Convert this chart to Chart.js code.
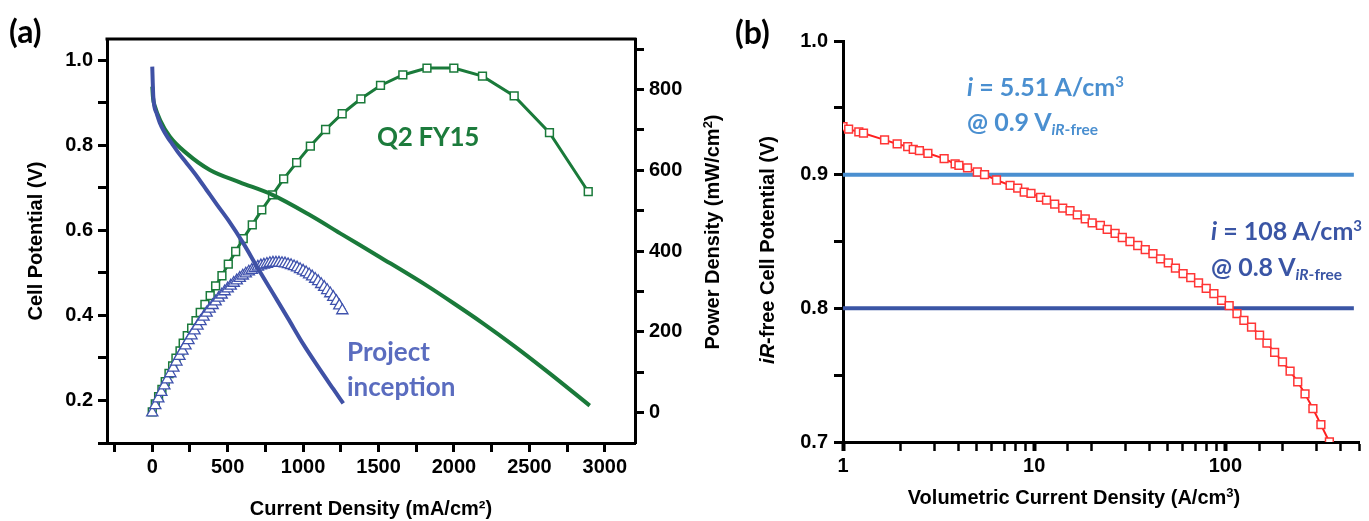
<!DOCTYPE html>
<html lang="en">
<head>
<meta charset="UTF-8">
<title>Cell potential and power density</title>
<script src="https://cdn.jsdelivr.net/npm/chart.js"></script>
<style>
  body { margin: 0; background: #fff; }
  #wrap { position: relative; width: 1369px; height: 521px; overflow: hidden; }
  canvas { position: absolute; top: 0; }
  #chartA { left: 0; }
  #chartB { left: 700px; }
  .note { position: absolute; font-family: Lato, "Open Sans", sans-serif; font-weight: 700; white-space: nowrap; line-height: 1; }
  .note sup { font-size: 60%; vertical-align: 0.6em; line-height: 0; }
  .note sub { font-size: 62%; vertical-align: -0.25em; line-height: 0; }
  .axis-title { position: absolute; font-family: "Liberation Sans", Arial, sans-serif; font-weight: 700; font-size: 20px; line-height: 24px; height: 24px; white-space: nowrap; text-align: center; }
  .axis-title sup { font-size: 65%; vertical-align: 0.55em; line-height: 0; }
</style>
</head>
<body>
<div id="wrap">
  <canvas id="chartA" width="740" height="521"></canvas>
  <canvas id="chartB" width="669" height="521"></canvas>

  <div class="note" style="left:9px; top:15px; font-size:32px;">(a)</div>
  <div class="note" style="left:735px; top:16px; font-size:32px;">(b)</div>

  <div class="note" style="left:377px; top:123px; font-size:26px; color:#1c7b3c; letter-spacing:-0.3px;">Q2 FY15</div>
  <div class="note" style="left:347px; top:334px; font-size:26px; line-height:35px; color:#5a6cbf;">Project<br>inception</div>

  <div class="note" style="left:967px; top:74px; font-size:25px; color:#4a8fd0;"><i>i</i> = 5.51 A/cm<sup>3</sup></div>
  <div class="note" style="left:967px; top:109px; font-size:25px; color:#4a8fd0;">@ 0.9 V<sub><i>iR</i>-free</sub></div>
  <div class="note" style="left:1211px; top:218px; font-size:25px; color:#3a55a5;"><i>i</i> = 108 A/cm<sup>3</sup></div>
  <div class="note" style="left:1211px; top:254px; font-size:25px; color:#3a55a5;">@ 0.8 V<sub><i>iR</i>-free</sub></div>

  <div class="axis-title" style="left:512px; top:220px; width:400px; transform:rotate(-90deg);">Power Density (mW/cm<sup>2</sup>)</div>
  <div class="axis-title" style="left:824px; top:485px; width:500px;">Volumetric Current Density (A/cm<sup>3</sup>)</div>
  <div class="axis-title" style="left:567px; top:238px; width:400px; transform:rotate(-90deg);"><i>iR</i>-free Cell Potential (V)</div>
</div>

<script>
// ---- (a) polarization curves, mA/cm2 vs V
const piCurrent = [0, 3, 7, 15, 29, 50, 73, 100, 129, 170, 228, 300, 360, 430, 504, 603, 700, 800, 900, 1000, 1100, 1200, 1266];
const piPotential = [0.985, 0.95, 0.914, 0.89, 0.875, 0.853, 0.836, 0.82, 0.805, 0.784, 0.758, 0.725, 0.695, 0.66, 0.624, 0.570, 0.511, 0.452, 0.393, 0.333, 0.279, 0.227, 0.193];

const q2Current = [0, 5, 18, 51, 117, 228, 382, 581, 800, 1050, 1260, 1510, 1820, 2000, 2190, 2400, 2630, 2900];
const q2Potential = [0.938, 0.912, 0.891, 0.860, 0.820, 0.781, 0.742, 0.713, 0.683, 0.635, 0.590, 0.537, 0.470, 0.428, 0.382, 0.328, 0.265, 0.188];

// ---- (a) power density, mW/cm2
const piPowerCurrent = [0, 20, 40, 60, 80, 100, 120, 140, 160, 180, 200, 220, 240, 260, 280, 300, 320, 340, 360, 380,
  400, 420, 440, 460, 480, 500, 520, 540, 560, 580, 600, 620, 640, 660, 680, 700, 720, 740, 760, 780,
  800, 820, 840, 860, 880, 900, 920, 940, 960, 980, 1000, 1020, 1040, 1060, 1080, 1100, 1120, 1140, 1160, 1180,
  1200, 1220, 1240, 1260];
const piPower = [0, 18, 35, 51, 67, 82, 97, 111, 126, 140, 153, 166, 179, 191, 203, 215, 226, 237, 247, 257,
  266, 275, 284, 292, 300, 307, 314, 321, 327, 333, 339, 344, 349, 353, 357, 361, 364, 366, 368, 370,
  371, 371, 371, 370, 369, 367, 365, 362, 359, 355, 351, 347, 342, 337, 331, 325, 318, 311, 303, 295,
  286, 276, 265, 253];

const q2PowerCurrent = [0, 20, 42, 64, 86, 111, 135, 157, 184, 205, 232, 261, 290, 318, 349, 384, 420, 462, 504, 553,
  603, 663, 726, 797, 871, 957, 1048, 1149, 1259, 1383, 1513, 1661, 1821, 1999, 2189, 2399, 2633, 2890];
const q2Power = [2, 22, 40, 58, 77, 97, 116, 135, 153, 172, 191, 209, 228, 248, 268, 290, 314, 339, 368, 399,
  431, 465, 502, 539, 579, 619, 660, 701, 740, 777, 810, 836, 853, 853, 833, 784, 693, 547];

// ---- (b) iR-free potential vs volumetric current density, A/cm3
const volCurrent = [1.0, 1.07, 1.21, 1.28, 1.65, 1.92, 2.18, 2.33, 2.51, 2.78, 3.38, 3.86, 4.04, 4.48, 5.04, 5.50, 6.35, 7.48, 8.2, 8.87,
  9.62, 10.8, 11.6, 12.8, 14.1, 15.4, 16.8, 18.5, 20.1, 22.2, 24.1, 26.5, 28.9, 31.7, 34.8, 38.1, 41.8, 45.8, 50.3, 54.8,
  60.1, 65.9, 72.4, 79.4, 87.1, 95.5, 104.7, 115, 125, 137, 151, 165, 181, 199, 218, 239, 261, 287, 316, 350];
const volPotential = [0.936, 0.934, 0.932, 0.931, 0.926, 0.923, 0.921, 0.919, 0.918, 0.916, 0.912, 0.908, 0.907, 0.905, 0.902, 0.900, 0.896, 0.892, 0.890, 0.887,
  0.886, 0.883, 0.881, 0.878, 0.875, 0.873, 0.870, 0.867, 0.864, 0.862, 0.859, 0.856, 0.853, 0.850, 0.847, 0.844, 0.841, 0.837, 0.834, 0.830,
  0.826, 0.823, 0.819, 0.815, 0.811, 0.806, 0.802, 0.796, 0.791, 0.786, 0.780, 0.774, 0.767, 0.760, 0.753, 0.745, 0.736, 0.725, 0.713, 0.700];

const refSpan = [1, 470];
const ref09 = [0.9, 0.9];
const ref08 = [0.8, 0.8];

// tick positions and which of them carry a label
const aBottomTicks = [-250, 0, 250, 500, 750, 1000, 1250, 1500, 1750, 2000, 2250, 2500, 2750, 3000];
const aBottomLabels = [0, 500, 1000, 1500, 2000, 2500, 3000];
const aLeftTicks = [0.1, 0.2, 0.3, 0.4, 0.5, 0.6, 0.7, 0.8, 0.9, 1.0];
const aLeftLabels = [0.2, 0.4, 0.6, 0.8, 1.0];
const aRightTicks = [0, 100, 200, 300, 400, 500, 600, 700, 800, 900];
const aRightLabels = [0, 200, 400, 600, 800];
const bLeftLabels = [0.7, 0.8, 0.9, 1.0];
const bBottomLabels = [1, 10, 100];

const pts = (xs, ys) => xs.map((x, i) => ({ x: x, y: ys[i] }));
const hasLabel = (list, v) => list.some(l => Math.abs(l - v) < 1e-6 * Math.max(1, Math.abs(l)));
const setTicks = list => scale => { scale.ticks = list.map(v => ({ value: v })); };

const tickFont = { family: '"Liberation Sans", Arial, sans-serif', size: 20, weight: 'bold' };
const titleFont = { family: '"Liberation Sans", Arial, sans-serif', size: 20, weight: 'bold' };

function axisStyle(extra) {
  return Object.assign({
    border: { color: '#000', width: 3 },
    grid: { drawOnChartArea: false, tickLength: 9, tickWidth: 3, tickColor: '#000' }
  }, extra);
}

// top edge of the box round panel (a)
const topFrame = {
  id: 'topFrame',
  afterDraw(chart) {
    const a = chart.chartArea, ctx = chart.ctx;
    ctx.save();
    ctx.strokeStyle = '#000';
    ctx.lineWidth = 3;
    ctx.beginPath();
    ctx.moveTo(a.left - 1.5, a.top);
    ctx.lineTo(a.right + 1.5, a.top);
    ctx.stroke();
    ctx.restore();
  }
};

new Chart(document.getElementById('chartA'), {
  type: 'line',
  data: {
    datasets: [
      { label: 'Project inception', data: pts(piCurrent, piPotential), yAxisID: 'y',
        borderColor: '#3f51a5', borderWidth: 4, pointRadius: 0, cubicInterpolationMode: 'monotone' },
      { label: 'Q2 FY15', data: pts(q2Current, q2Potential), yAxisID: 'y',
        borderColor: '#1a7a3a', borderWidth: 4, pointRadius: 0, cubicInterpolationMode: 'monotone' },
      { label: 'Project inception power', data: pts(piPowerCurrent, piPower), yAxisID: 'y2', showLine: false,
        pointStyle: 'triangle', pointRadius: 6.5, pointBorderWidth: 1.3, pointBorderColor: '#3f52ad', pointBackgroundColor: '#fff' },
      { label: 'Q2 FY15 power', data: pts(q2PowerCurrent, q2Power), yAxisID: 'y2',
        borderColor: '#1a7a3a', borderWidth: 3, pointStyle: 'rect', pointRadius: 5.5, pointBorderWidth: 1.5,
        pointBorderColor: '#1a7a3a', pointBackgroundColor: '#fff' }
    ]
  },
  options: {
    animation: false,
    responsive: false,
    devicePixelRatio: 1,
    layout: { padding: { top: 39, left: 0, right: 0, bottom: 0 } },
    plugins: { legend: { display: false }, tooltip: { enabled: false } },
    scales: {
      x: axisStyle({
        type: 'linear', position: 'bottom', min: -300, max: 3200,
        afterFit: s => { s.height = 78; },
        afterBuildTicks: setTicks(aBottomTicks),
        ticks: { autoSkip: false, maxRotation: 0, padding: 3, color: '#000', font: tickFont,
          callback: v => hasLabel(aBottomLabels, v) ? String(v) : '' },
        title: { display: true, text: 'Current Density (mA/cm²)', color: '#000', font: titleFont, padding: { top: 4, bottom: 0 } }
      }),
      y: axisStyle({
        type: 'linear', position: 'left', min: 0.1, max: 1.05,
        afterFit: s => { s.width = 107; },
        afterBuildTicks: setTicks(aLeftTicks),
        ticks: { autoSkip: false, padding: 5, color: '#000', font: tickFont,
          callback: v => hasLabel(aLeftLabels, v) ? v.toFixed(1) : '' },
        title: { display: true, text: 'Cell Potential (V)', color: '#000', font: titleFont, padding: { top: 24, bottom: 0 } }
      }),
      y2: axisStyle({
        type: 'linear', position: 'right', min: -75, max: 925,
        afterFit: s => { s.width = 105; },
        afterBuildTicks: setTicks(aRightTicks),
        ticks: { autoSkip: false, padding: 5, color: '#000', font: tickFont,
          callback: v => hasLabel(aRightLabels, v) ? String(v) : '' }
      })
    }
  },
  plugins: [topFrame]
});

new Chart(document.getElementById('chartB'), {
  type: 'line',
  data: {
    datasets: [
      { label: 'iR-free potential', data: pts(volCurrent, volPotential),
        borderColor: '#ff1f1f', borderWidth: 2, pointStyle: 'rect', pointRadius: 5.5, pointBorderWidth: 1.5,
        pointBorderColor: '#ff3535', pointBackgroundColor: '#fff' },
      { label: '0.9 V', data: pts(refSpan, ref09), borderColor: '#4a8fd0', borderWidth: 4, pointRadius: 0 },
      { label: '0.8 V', data: pts(refSpan, ref08), borderColor: '#3a55a5', borderWidth: 4, pointRadius: 0 }
    ]
  },
  options: {
    animation: false,
    responsive: false,
    devicePixelRatio: 1,
    layout: { padding: { top: 41, left: 0, right: 10, bottom: 0 } },
    plugins: { legend: { display: false }, tooltip: { enabled: false } },
    scales: {
      x: axisStyle({
        type: 'logarithmic', position: 'bottom', min: 1, max: 500,
        afterFit: s => { s.height = 79; },
        grid: { drawOnChartArea: false, tickLength: 9, tickColor: '#000',
          tickWidth: c => (c.tick && hasLabel(bBottomLabels, c.tick.value)) ? 4 : 2.5 },
        ticks: { autoSkip: false, maxRotation: 0, padding: 3, color: '#000', font: tickFont,
          callback: v => hasLabel(bBottomLabels, v) ? String(v) : '' }
      }),
      y: axisStyle({
        type: 'linear', position: 'left', min: 0.7, max: 1.0,
        afterFit: s => { s.width = 143; },
        ticks: { stepSize: 0.05, autoSkip: false, padding: 6, color: '#000', font: tickFont,
          callback: v => hasLabel(bLeftLabels, v) ? v.toFixed(1) : '' }
      })
    }
  }
});
</script>
</body>
</html>
